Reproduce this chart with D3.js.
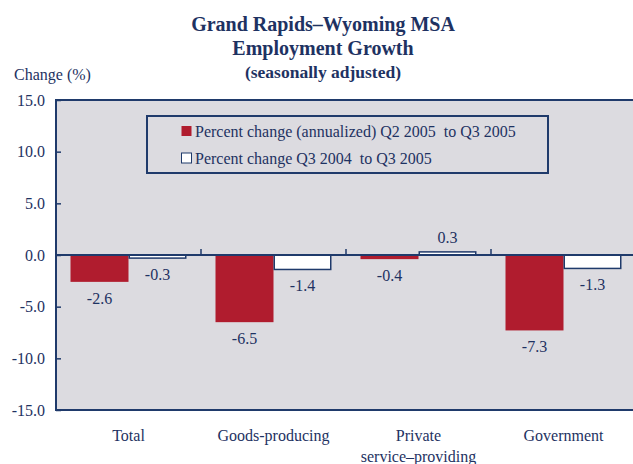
<!DOCTYPE html>
<html>
<head>
<meta charset="utf-8">
<script src="https://cdn.jsdelivr.net/npm/d3@7"></script>
<style>
  body { margin: 0; background: #fff; }
  text { font-family: "Liberation Serif", "Times New Roman", serif; fill: #1e3262; white-space: pre; }
</style>
</head>
<body>
<div id="chart"></div>
<script>
// data
const categories = ["Total", "Goods-producing", "Private\nservice\u2013providing", "Government"];
const seriesNames = ["Percent change (annualized) Q2 2005  to Q3 2005", "Percent change Q3 2004  to Q3 2005"];
const quarterChange = [-2.6, -6.5, -0.4, -7.3];
const yearChange = [-0.3, -1.4, 0.3, -1.3];
const yTicks = [-15, -10, -5, 0, 5, 10, 15];

const W = 633, H = 464;
const plot = { left: 56, right: 636, top: 100, bottom: 410 };
const navy = "#1f3a6b", red = "#b01c2e", bg = "#dcdbe0";
const fmt = v => v.toFixed(1); // plain hyphen minus like the original

const svg = d3.select("#chart").append("svg")
  .attr("width", W).attr("height", H);

// titles
const titles = [
  { t: "Grand Rapids\u2013Wyoming MSA", y: 31, s: 20 },
  { t: "Employment Growth", y: 55, s: 20 },
  { t: "(seasonally adjusted)", y: 78, s: 17.5 }
];
svg.selectAll(".title").data(titles).join("text")
  .attr("class", "title")
  .attr("x", 323).attr("y", d => d.y)
  .attr("text-anchor", "middle")
  .attr("font-weight", "bold")
  .attr("font-size", d => d.s)
  .text(d => d.t);

svg.append("text")
  .attr("x", 14).attr("y", 80)
  .attr("font-size", 16)
  .text("Change (%)");

// scales
const x = d3.scaleBand().domain(categories).range([plot.left, plot.right]);
const xs = d3.scaleBand().domain([0, 1]).range([0, x.bandwidth()])
  .paddingInner(0).paddingOuter(0.25);
const y = d3.scaleLinear().domain([-15, 15]).range([plot.bottom, plot.top]);

// plot background
svg.append("rect")
  .attr("x", plot.left).attr("y", plot.top)
  .attr("width", plot.right - plot.left).attr("height", plot.bottom - plot.top)
  .attr("fill", bg).attr("stroke", navy).attr("stroke-width", 2);

// y axis
const yAxis = svg.append("g")
  .attr("transform", `translate(${plot.left},0)`)
  .call(d3.axisLeft(y).tickValues(yTicks).tickFormat(fmt).tickSize(-5).tickPadding(11));
yAxis.select(".domain").remove();
yAxis.selectAll("line").attr("stroke", navy).attr("stroke-width", 1.5);
yAxis.selectAll("text")
  .attr("font-size", 16)
  .attr("fill", "#1e3262")
  .style("font-family", '"Liberation Serif", serif');

// bars
const rows = categories.map((c, i) => ({ c, vals: [quarterChange[i], yearChange[i]] }));
const groups = svg.selectAll(".grp").data(rows).join("g")
  .attr("class", "grp")
  .attr("transform", d => `translate(${x(d.c)},0)`);

groups.selectAll("rect").data(d => d.vals.map((v, k) => ({ v, k }))).join("rect")
  .attr("x", d => xs(d.k) + (d.k === 1 ? 0.75 : 0))
  .attr("width", d => xs.bandwidth() - (d.k === 1 ? 1.5 : 0))
  .attr("y", d => y(Math.max(0, d.v)))
  .attr("height", d => Math.abs(y(d.v) - y(0)))
  .attr("fill", d => d.k === 0 ? red : "#fff")
  .attr("stroke", d => d.k === 0 ? "none" : navy)
  .attr("stroke-width", 1.5);

groups.selectAll(".val").data(d => d.vals.map((v, k) => ({ v, k }))).join("text")
  .attr("class", "val")
  .attr("x", d => xs(d.k) + xs.bandwidth() / 2)
  .attr("y", d => d.v >= 0 ? y(d.v) - 9 : y(d.v) + 22)
  .attr("text-anchor", "middle")
  .attr("font-size", 16)
  .text(d => fmt(d.v));

// zero line and category separators
svg.append("line")
  .attr("x1", plot.left).attr("x2", plot.right)
  .attr("y1", y(0)).attr("y2", y(0))
  .attr("stroke", navy).attr("stroke-width", 2);
svg.selectAll(".sep").data(categories.slice(1)).join("line")
  .attr("class", "sep")
  .attr("x1", d => x(d)).attr("x2", d => x(d))
  .attr("y1", y(0)).attr("y2", y(0) - 6)
  .attr("stroke", navy).attr("stroke-width", 1.5);

// category labels
const catLabels = svg.selectAll(".cat").data(categories).join("text")
  .attr("class", "cat")
  .attr("text-anchor", "middle")
  .attr("font-size", 16)
  .attr("y", 441);
catLabels.selectAll("tspan").data(d => d.split("\n").map(s => ({ s, c: d }))).join("tspan")
  .attr("x", d => x(d.c) + x.bandwidth() / 2)
  .attr("dy", (d, i) => i === 0 ? 0 : 21)
  .text(d => d.s);

// legend
const legend = svg.append("g").attr("transform", "translate(147,116)");
legend.append("rect")
  .attr("width", 401).attr("height", 57)
  .attr("fill", bg).attr("stroke", navy).attr("stroke-width", 2);
const items = legend.selectAll(".item").data(seriesNames).join("g")
  .attr("class", "item")
  .attr("transform", (d, i) => `translate(34,${15 + i * 27})`);
items.append("rect")
  .attr("x", 0.5).attr("y", -5).attr("width", 10).attr("height", 10)
  .attr("fill", (d, i) => i === 0 ? red : "#fff")
  .attr("stroke", (d, i) => i === 0 ? "none" : navy)
  .attr("stroke-width", 1);
items.append("text")
  .attr("x", 14).attr("y", 5.5)
  .attr("font-size", 16)
  .text(d => d);
</script>
</body>
</html>
